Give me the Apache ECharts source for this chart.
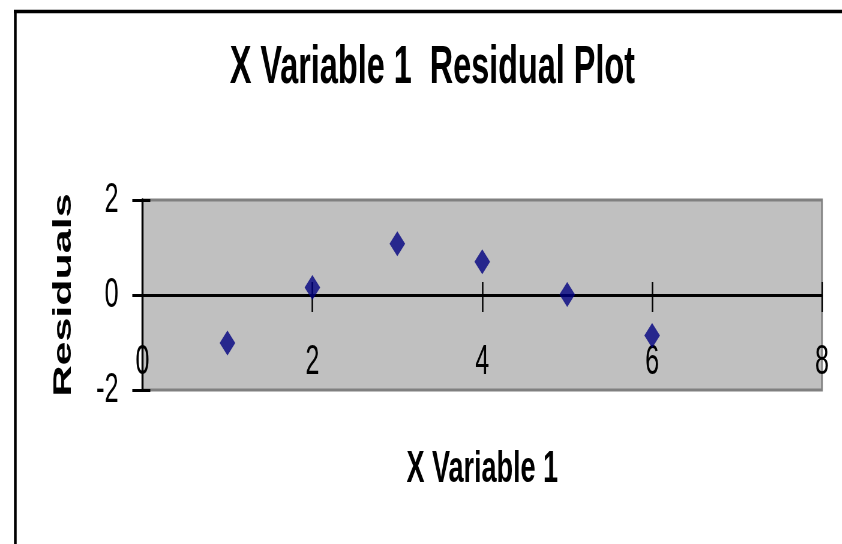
<!DOCTYPE html>
<html>
<head>
<meta charset="utf-8">
<script src="https://cdn.jsdelivr.net/npm/echarts@6/dist/echarts.min.js"></script>
<style>
  html, body { margin: 0; padding: 0; background: #ffffff; overflow: hidden; width: 842px; height: 544px; }
  /* The chart is laid out wide and squeezed horizontally, giving the narrow lettering and tall markers */
  #chart { width: 1404px; height: 544px; transform: scaleX(0.6); transform-origin: 0 0; }
</style>
</head>
<body>
<div id="chart"></div>
<script>
// X Variable 1 values and the regression residuals at each of them
const xValues = [1, 2, 3, 4, 5, 6];
const residuals = [-1.01, 0.16, 1.08, 0.70, 0.01, -0.85];

const chartTitle = 'X Variable 1  Residual Plot';
const xAxisName = 'X Variable 1';
const yAxisName = 'Residuals';

const xRange = { min: 0, max: 8, interval: 2 };
const yRange = { min: -2, max: 2, interval: 2 };

const FONT = '"Liberation Sans", Arial, sans-serif';

const points = xValues.map((x, i) => [x, residuals[i]]);

const chart = echarts.init(document.getElementById('chart'), null, { renderer: 'canvas' });

const tickLabel = { color: '#000', fontFamily: FONT, fontSize: 42, fontWeight: 'normal' };

chart.setOption({
  animation: false,
  backgroundColor: '#ffffff',
  title: {
    text: chartTitle,
    left: 383,
    top: 41,
    padding: 0,
    textStyle: { color: '#000', fontFamily: FONT, fontSize: 54, fontWeight: 'bold' }
  },
  graphic: [
    // outer chart-area frame (continues past the right and bottom edges)
    { type: 'line', shape: { x1: 23, y1: 11.5, x2: 1500, y2: 11.5 }, style: { stroke: '#000', lineWidth: 3.5 }, z: 10 },
    { type: 'line', shape: { x1: 25.5, y1: 10, x2: 25.5, y2: 600 }, style: { stroke: '#000', lineWidth: 4.5 }, z: 10 }
  ],
  grid: {
    left: 237.5,
    right: 34,
    top: 200,
    bottom: 154,
    outerBoundsMode: 'none',
    containLabel: false,
    show: true,
    backgroundColor: '#C0C0C0',
    borderColor: '#808080',
    borderWidth: 3
  },
  xAxis: [
    {
      // axis line through zero with the lower half of each cross tick
      type: 'value',
      position: 'bottom',
      min: xRange.min, max: xRange.max, interval: xRange.interval,
      axisLine: { show: true, onZero: true, onZeroAxisIndex: 0, lineStyle: { color: '#000', width: 3 } },
      axisTick: { show: true, inside: false, length: 17, lineStyle: { color: '#000', width: 2.5 } },
      axisLabel: { show: false },
      splitLine: { show: false }
    },
    {
      // upper half of each cross tick
      type: 'value',
      position: 'bottom',
      min: xRange.min, max: xRange.max, interval: xRange.interval,
      axisLine: { show: false, onZero: true, onZeroAxisIndex: 0 },
      axisTick: { show: true, inside: true, length: 13, lineStyle: { color: '#000', width: 2.5 } },
      axisLabel: { show: false },
      splitLine: { show: false }
    },
    {
      // tick labels sit low, along the bottom of the plot area
      type: 'value',
      position: 'bottom',
      min: xRange.min, max: xRange.max, interval: xRange.interval,
      name: xAxisName,
      nameLocation: 'middle',
      nameGap: 57,
      nameTextStyle: { color: '#000', fontFamily: FONT, fontSize: 45, fontWeight: 'bold' },
      axisLine: { show: false, onZero: false },
      axisTick: { show: false },
      axisLabel: Object.assign({ inside: true, margin: 7 }, tickLabel),
      splitLine: { show: false }
    }
  ],
  yAxis: [
    {
      type: 'value',
      position: 'left',
      min: yRange.min, max: yRange.max, interval: yRange.interval,
      name: yAxisName,
      nameLocation: 'middle',
      nameRotate: 90,
      nameGap: 110,
      nameTextStyle: { color: '#000', fontFamily: FONT, fontSize: 43, fontWeight: 'bold' },
      axisLine: { show: true, onZero: false, lineStyle: { color: '#000', width: 3.4 } },
      axisTick: { show: true, inside: false, length: 17, lineStyle: { color: '#000', width: 3 } },
      axisLabel: Object.assign({ margin: 40 }, tickLabel),
      splitLine: { show: false }
    },
    {
      type: 'value',
      position: 'left',
      min: yRange.min, max: yRange.max, interval: yRange.interval,
      axisLine: { show: false, onZero: false },
      axisTick: { show: true, inside: true, length: 13, lineStyle: { color: '#000', width: 3 } },
      axisLabel: { show: false },
      splitLine: { show: false }
    }
  ],
  series: [
    {
      type: 'scatter',
      xAxisIndex: 0,
      yAxisIndex: 0,
      data: points,
      symbol: 'diamond',
      symbolSize: [26, 25],
      itemStyle: { color: '#000080' },
      z: 5
    }
  ]
});
</script>
</body>
</html>
